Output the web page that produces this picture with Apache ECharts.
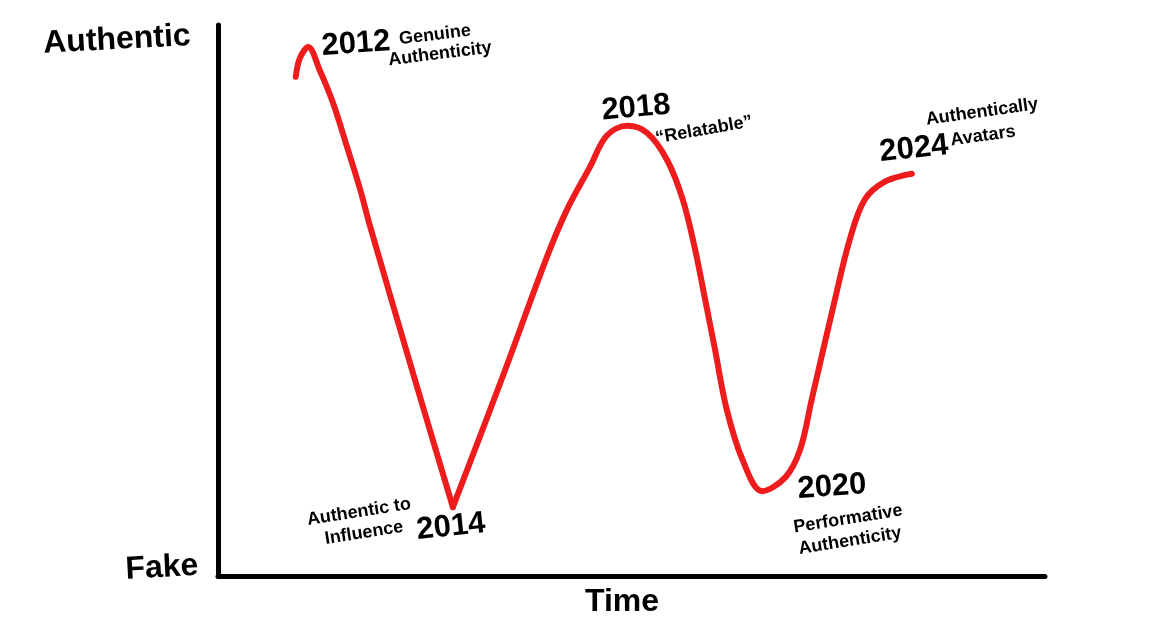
<!DOCTYPE html>
<html>
<head>
<meta charset="utf-8">
<script src="https://cdn.jsdelivr.net/npm/echarts@6/dist/echarts.min.js"></script>
<style>
html,body{margin:0;padding:0;background:#fff;}
#chart{width:1156px;height:626px;}
</style>
</head>
<body>
<div id="chart"></div>
<script>
// Time (0-100) and authenticity (0 = Fake, 100 = Authentic) along the hand-drawn curve
const timeValues = [9.4, 9.9, 10.9, 12.3, 13.9, 15.6, 17.2, 18.4, 23.8, 28.4,
  34.3, 39.8, 42.2, 45.0, 47.0, 49.5, 51.9, 54.3, 56.2, 57.7, 58.9, 60.1, 61.5, 63.4,
  65.8, 68.6, 70.4, 71.8, 74.6, 76.4, 78.2, 80.7, 83.9];
const authValues = [90.6, 94.0, 96.0, 91.8, 85.9, 77.9, 70.1, 63.4, 35.7, 12.5,
  35.7, 58.0, 66.5, 74.3, 79.9, 81.7, 80.4, 75.5, 68.3, 59.2, 50.2, 41.1, 30.3, 21.2,
  15.4, 17.9, 23.0, 32.1, 50.2, 61.1, 68.3, 71.6, 73.0];
const troughIndex = 9; // sharp 2014 vertex

const axisTitles = { y_top: 'Authentic', y_bottom: 'Fake', x: 'Time' };
const annotations = [
  { text: '2012', size: 31, x: 356, y: 44, rot: 4 },
  { text: 'Genuine', size: 18, x: 435, y: 35, rot: 7 },
  { text: 'Authenticity', size: 18, x: 440, y: 54, rot: 7 },
  { text: '2018', size: 31, x: 636, y: 108, rot: 5 },
  { text: '\u201cRelatable\u201d', size: 18, x: 704, y: 130, rot: 10 },
  { text: 'Authentically', size: 18, x: 982, y: 112, rot: 8 },
  { text: 'Avatars', size: 18, x: 983, y: 136, rot: 8 },
  { text: '2024', size: 31, x: 914, y: 149, rot: 6 },
  { text: 'Authentic to', size: 18, x: 359, y: 512, rot: 9 },
  { text: 'Influence', size: 18, x: 364, y: 533, rot: 9 },
  { text: '2014', size: 31, x: 451, y: 527, rot: 6 },
  { text: '2020', size: 31, x: 832, y: 487, rot: 4 },
  { text: 'Performative', size: 18, x: 848, y: 519, rot: 9 },
  { text: 'Authenticity', size: 18, x: 850, y: 541, rot: 9 }
];

const pts = timeValues.map((t, i) => [t, authValues[i]]);
const segA = pts.slice(0, troughIndex + 1);
const segB = pts.slice(troughIndex);

const FONT = '"Liberation Sans", Arial, Helvetica, sans-serif';
function txt(t, size, x, y, rotDeg) {
  return {
    type: 'text', x: x, y: y, rotation: rotDeg * Math.PI / 180,
    style: { text: t, font: 'bold ' + size + 'px ' + FONT, fill: '#000',
      align: 'center', verticalAlign: 'middle' }
  };
}

const graphics = [
  txt(axisTitles.y_top, 32, 117, 40, 3),
  txt(axisTitles.y_bottom, 32, 162, 568, 3),
  txt(axisTitles.x, 32, 622, 602, 0)
].concat(annotations.map(a => txt(a.text, a.size, a.x, a.y, a.rot)));

const lineStyle = { color: '#ee1c1c', width: 6, cap: 'round', join: 'round' };
const chart = echarts.init(document.getElementById('chart'));
chart.setOption({
  animation: false,
  backgroundColor: '#fff',
  grid: { left: 218, right: 111, top: 25, bottom: 50 },
  xAxis: {
    type: 'value', min: 0, max: 100,
    axisLine: { show: true, lineStyle: { color: '#000', width: 5 } },
    axisTick: { show: false }, axisLabel: { show: false }, splitLine: { show: false }
  },
  yAxis: {
    type: 'value', min: 0, max: 100,
    axisLine: { show: true, lineStyle: { color: '#000', width: 5 } },
    axisTick: { show: false }, axisLabel: { show: false }, splitLine: { show: false }
  },
  series: [
    { type: 'line', data: segA, smooth: 0.35, showSymbol: false, lineStyle: lineStyle },
    { type: 'line', data: segB, smooth: 0.35, showSymbol: false, lineStyle: lineStyle }
  ],
  graphic: graphics
});
</script>
</body>
</html>
